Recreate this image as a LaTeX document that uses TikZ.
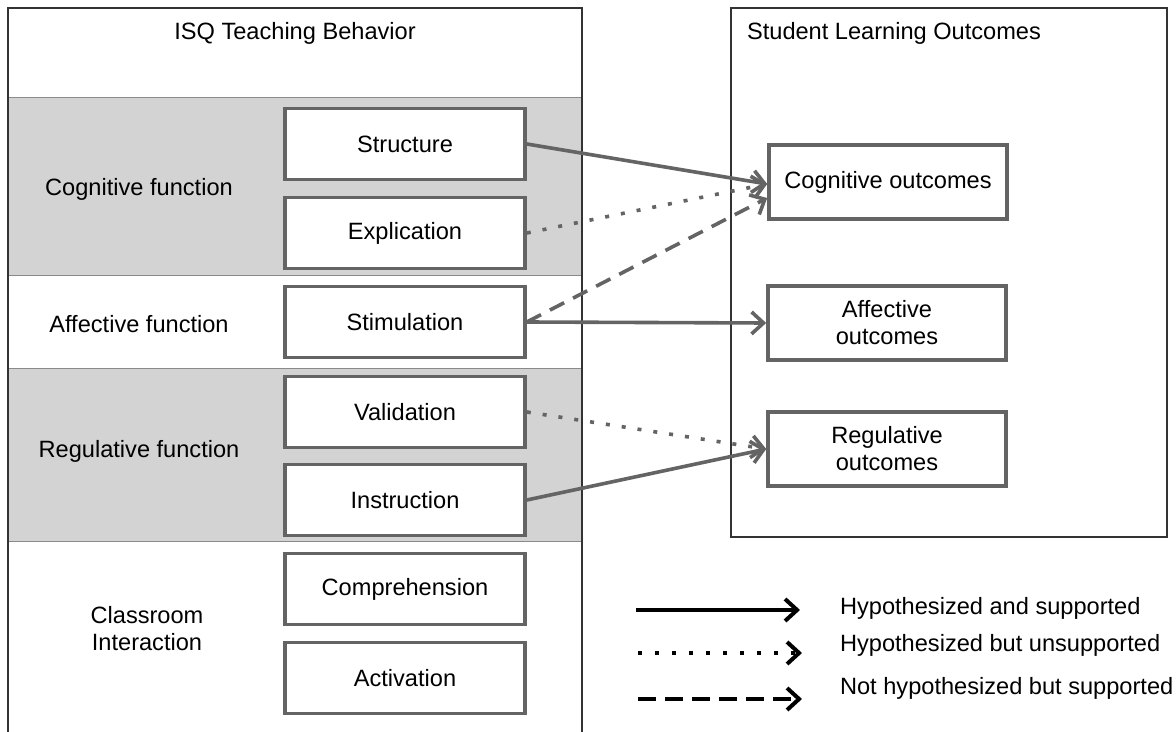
\documentclass[tikz,border=0pt]{standalone}
\usepackage{fontspec}
\setmainfont{Liberation Sans}
\usepackage{xcolor}
\usetikzlibrary{arrows.meta}
\definecolor{boxGrey}{HTML}{646464}
\definecolor{bandGrey}{HTML}{D3D3D3}
\definecolor{lineGrey}{HTML}{8A8A8A}

\begin{document}
\begin{tikzpicture} [
    x=0.5pt, y=-0.5pt,
    every node/.style={font=\fontsize{11.8}{13.5}\selectfont},
    edge/.style={-{Straight Barb[length=6pt,width=11pt]}, line width=1.8pt, color=boxGrey},
    dotEdge/.style={edge, dash pattern=on 2pt off 6pt},
    dashEdge/.style={edge, dash pattern=on 8pt off 5pt},
    legendEdge/.style={edge, line width=2pt, color=black},
    frame/.style={draw=black!80, line width=0.75pt},
    band/.style={fill=bandGrey, draw=lineGrey, line width=0.5pt},
    behavior/.style={rectangle, draw=boxGrey, fill=white, line width=1.8pt, align=center, minimum width=120pt, minimum height=35.5pt},
    outcome/.style={rectangle, draw=boxGrey, fill=white, line width=1.8pt, align=center, minimum width=119pt, minimum height=37pt}
]

\useasboundingbox (0,0) rectangle (1176,732);

% bands of the left panel
\draw[band] (8,98) rectangle (582,276);
\draw[band] (8,368) rectangle (582,541);
\draw[frame] (8,732) -- (8,8) -- (582,8) -- (582,732);
\draw[frame] (731,8) rectangle (1167,537);

\node (isq) at (295,33) {ISQ Teaching Behavior};
\node (slo) at (894,33) {Student Learning Outcomes};

\node (cognitiveFn) at (139,189) {Cognitive function};
\node (affectiveFn) at (139,324) {Affective function};
\node (regulativeFn) at (139,451) {Regulative function};
\node[align=center] (classroom) at (147,629) {Classroom\\Interaction};

\node[behavior] (structure) at (405,144) {Structure};
\node[behavior] (explication) at (405,233) {Explication};
\node[behavior] (stimulation) at (405,322) {Stimulation};
\node[behavior] (validation) at (405,412) {Validation};
\node[behavior] (instruction) at (405,500) {Instruction};
\node[behavior] (comprehension) at (405,589) {Comprehension};
\node[behavior] (activation) at (405,678) {Activation};

\node[outcome] (cognitive) at (888,182) {Cognitive outcomes};
\node[outcome] (affective) at (887,323) {Affective\\outcomes};
\node[outcome] (regulative) at (887,449) {Regulative\\outcomes};

\draw[edge] (structure.east) -- ([yshift=-1pt]cognitive.west);
\draw[dotEdge] (explication.east) -- ([yshift=-1pt]cognitive.west);
\draw[dashEdge] (stimulation.east) -- ([yshift=-8pt]cognitive.west);
\draw[edge] (stimulation.east) -- (affective.west);
\draw[dotEdge] (validation.east) -- (regulative.west);
\draw[edge] (instruction.east) -- (regulative.west);

% legend
\coordinate (solidA) at (636,610);
\coordinate (solidB) at (800,610);
\coordinate (dotA) at (638,653);
\coordinate (dotB) at (802,653);
\coordinate (dashA) at (638,699);
\coordinate (dashB) at (802,699);
\draw[legendEdge] (solidA) -- (solidB);
\draw[legendEdge, dash pattern=on 2pt off 6.5pt] (dotA) -- (dotB);
\draw[legendEdge, dash pattern=on 9pt off 4.5pt] (dashA) -- (dashB);

\node[anchor=west] (supported) at (833,608) {Hypothesized and supported};
\node[anchor=west] (unsupported) at (833,645) {Hypothesized but unsupported};
\node[anchor=west] (notHyp) at (833,688) {Not hypothesized but supported};

\end{tikzpicture}
\end{document}
